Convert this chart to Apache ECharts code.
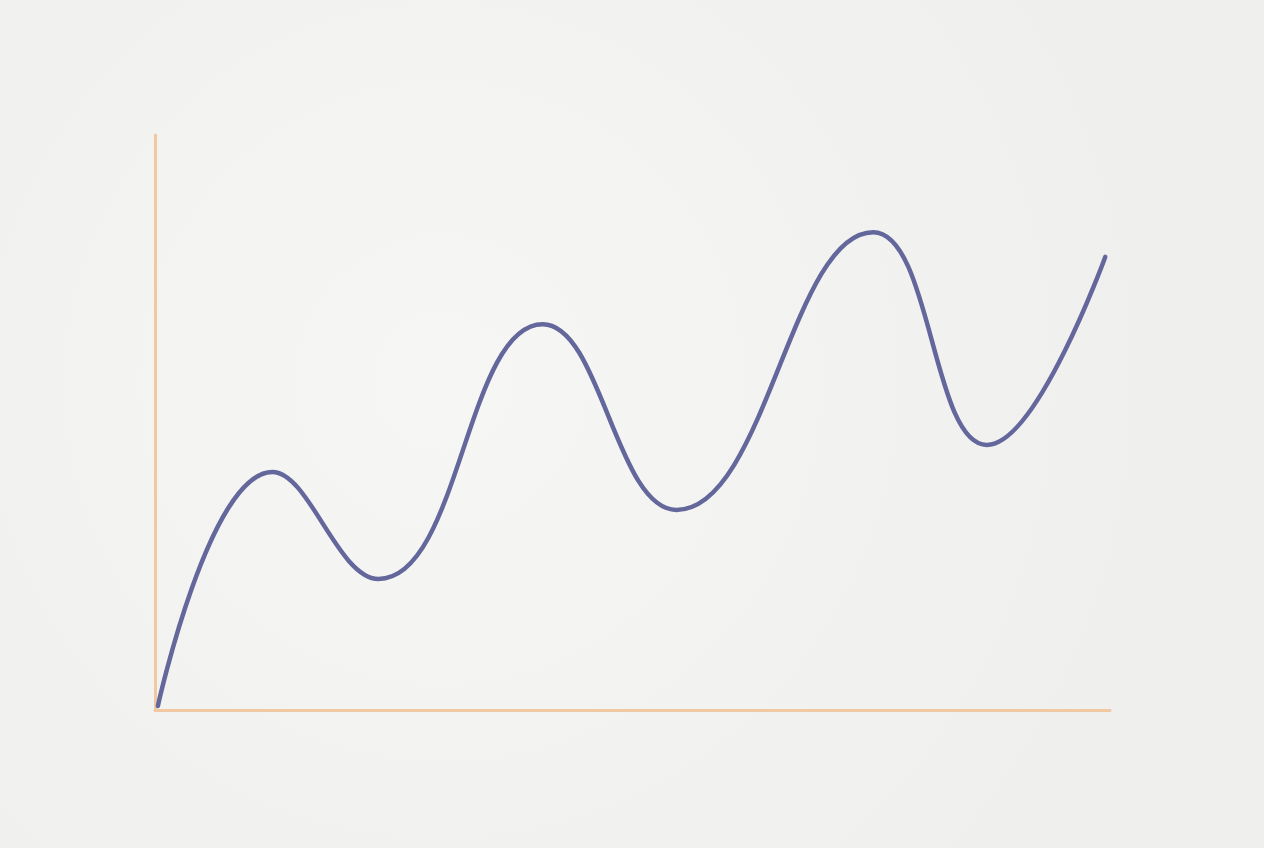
<!DOCTYPE html>
<html>
<head>
<meta charset="utf-8">
<script src="https://cdn.jsdelivr.net/npm/echarts@6/dist/echarts.min.js"></script>
<style>
html,body{margin:0;padding:0;width:1264px;height:848px;overflow:hidden;}
#chart{width:1264px;height:848px;}
</style>
</head>
<body>
<div id="chart"></div>
<script>
const xValues = [0.3, 12.3, 23.4, 40.6, 54.6, 75.2, 87.1, 99.5];
const yValues = [0.7, 41.4, 22.8, 67.1, 34.8, 83.1, 46.1, 78.8];

const points = xValues.map((x, i) => [x, yValues[i]]);
const chart = echarts.init(document.getElementById('chart'), null, {renderer: 'canvas'});
chart.setOption({
  backgroundColor: {
    type: 'radial', x: 0.35, y: 0.45, r: 0.85,
    colorStops: [{offset: 0, color: '#f6f6f4'}, {offset: 1, color: '#efefed'}]
  },
  animation: false,
  grid: {left: 155, right: 154, top: 135, bottom: 138},
  xAxis: {
    type: 'value', min: 0, max: 100,
    axisLine: {show: true, lineStyle: {color: '#f2c8a2', width: 3}},
    axisTick: {show: false}, axisLabel: {show: false}, splitLine: {show: false}
  },
  yAxis: {
    type: 'value', min: 0, max: 100,
    axisLine: {show: true, lineStyle: {color: '#f2c8a2', width: 3}},
    axisTick: {show: false}, axisLabel: {show: false}, splitLine: {show: false}
  },
  series: [{
    type: 'line', data: points, smooth: 0.45, showSymbol: false,
    lineStyle: {color: '#64679c', width: 4.5, cap: 'round', join: 'round'}
  }]
});
</script>
</body>
</html>
